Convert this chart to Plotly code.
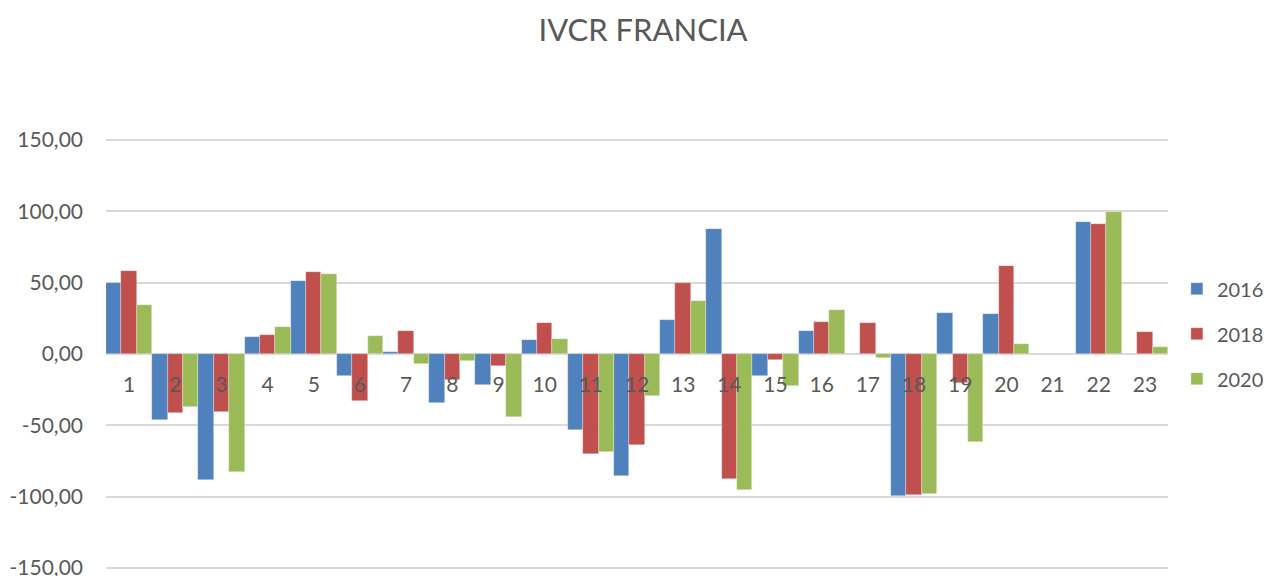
import plotly.graph_objects as go

categories = [str(i) for i in range(1, 24)]
v2016 = [49.5, -46.3, -88.4, 12.2, 51.4, -15.7, 1.6, -34.7, -21.7, 9.8, -53.3, -85.8,
         23.8, 87.7, -15.7, 16.1, None, -99.6, 28.5, 27.8, None, 92.3, None]
v2018 = [58.4, -41.6, -40.7, 13.3, 57.5, -32.7, 16.0, -18.3, -8.4, 22.0, -69.9, -64.1,
         49.6, -87.4, -4.4, 22.7, 21.7, -99.1, -20.3, 61.7, None, 91.4, 15.4]
v2020 = [34.4, -37.4, -82.5, 18.9, 56.1, 12.4, -7.3, -4.9, -44.4, 10.3, -69.0, -29.2,
         37.0, -95.1, -22.2, 30.9, -2.8, -98.4, -61.9, 7.0, None, 99.3, 4.7]

y_ticks = [-150, -100, -50, 0, 50, 100, 150]
y_labels = ["-150,00", "-100,00", "-50,00", "0,00", "50,00", "100,00", "150,00"]

series = [("2016", v2016, "#4F81BD"), ("2018", v2018, "#C0504D"), ("2020", v2020, "#9BBB59")]

fig = go.Figure()
for name, vals, color in series:
    fig.add_trace(
        go.Bar(
            x=categories,
            y=vals,
            name=name,
            legendgroup=name,
            marker=dict(color=color, line=dict(color="rgba(255,255,255,0.5)", width=0.6)),
        )
    )

grey = "#595959"
# the page body adds an 8px margin, so the figure is sized a bit smaller
fig.update_layout(
    width=1266,
    height=568,
    paper_bgcolor="white",
    plot_bgcolor="white",
    font=dict(family="Lato, Noto Sans, sans-serif", size=21, color=grey),
    title=dict(text="IVCR FRANCIA", x=0.5016, xanchor="center", y=0.961, yanchor="middle",
               font=dict(size=31, color=grey)),
    margin=dict(l=98, r=106, t=130, b=6, autoexpand=False),
    barmode="group",
    bargap=0,
    bargroupgap=0,
    legend=dict(x=1.095, xanchor="right", y=0.547, yanchor="middle",
                traceorder="grouped", tracegroupgap=16, font=dict(size=20, color=grey),
                itemwidth=30),
    xaxis=dict(anchor="free", position=0.5, showgrid=False, showline=False,
               ticks="", ticklabelstandoff=16, tickfont=dict(size=21, color=grey)),
    yaxis=dict(range=[-151.5, 151.5], tickvals=y_ticks, ticktext=y_labels,
               showgrid=True, gridcolor="#D9D9D9", gridwidth=1.5,
               zeroline=True, zerolinecolor="#D9D9D9", zerolinewidth=1.5,
               ticklabeloverflow="allow",
               ticklabelstandoff=22, tickfont=dict(size=21, color=grey)),
)

fig.write_html("out.html")
